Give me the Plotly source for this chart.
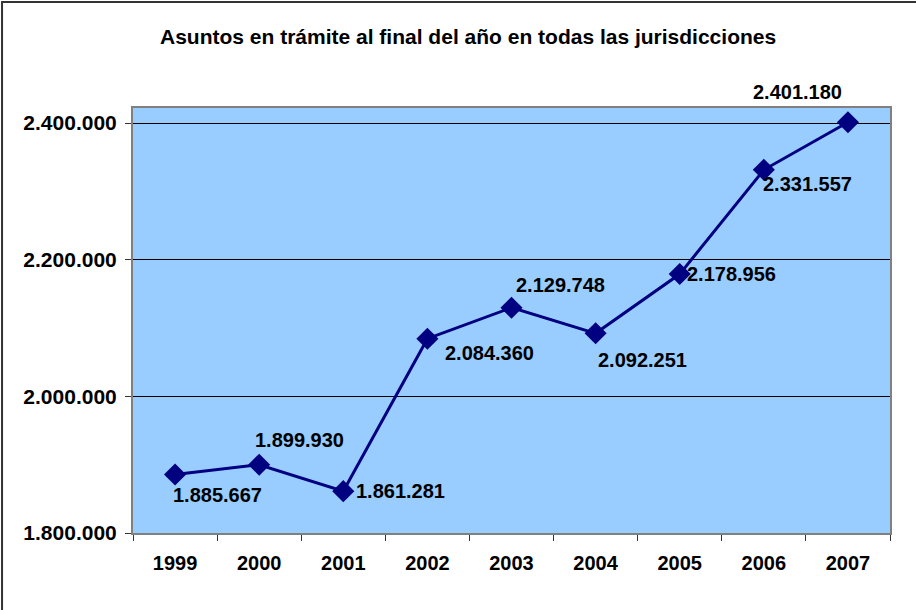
import plotly.graph_objects as go

years = [1999, 2000, 2001, 2002, 2003, 2004, 2005, 2006, 2007]
asuntos = [1885667, 1899930, 1861281, 2084360, 2129748, 2092251, 2178956, 2331557, 2401180]
y_ticks = [1800000, 2000000, 2200000, 2400000]

# label offsets (px) from each point, as placed in the original
label_dx = [42, 40, 57, 62, 49, 47, 52, 44, -50]
label_dy = [-21, 25, 0, -14, 23, -27, 0, -14, 30]

navy = '#000080'
font = 'Liberation Sans, Arial, sans-serif'


def fmt(v):
    return f'{v:,}'.replace(',', '.')


fig = go.Figure()
fig.add_trace(go.Scatter(x=years, y=asuntos, mode='lines+markers',
                         line=dict(color=navy, width=3),
                         marker=dict(symbol='diamond', size=17, color=navy)))

for yr, v, dx, dy in zip(years, asuntos, label_dx, label_dy):
    fig.add_annotation(x=yr, y=v, text=fmt(v), showarrow=False,
                       xshift=dx, yshift=dy,
                       font=dict(family=font, size=20, color='black', weight='bold'))

# outer frame of the chart (only top and left edges visible)
fig.add_shape(type='rect', xref='paper', yref='paper',
              x0=-0.173, x1=1.2, y0=-0.4, y1=1.2494,
              line=dict(color='#333333', width=2), layer='below')

fig.update_layout(
    width=916, height=610,
    margin=dict(l=133, r=26, t=108, b=77),
    paper_bgcolor='white', plot_bgcolor='#99CCFF',
    separators=',.',
    showlegend=False,
    title=dict(text='Asuntos en trámite al final del año en todas las jurisdicciones',
               x=0.511, xanchor='center', y=0.9393, yanchor='middle',
               font=dict(family=font, size=21, color='black', weight='bold')),
    font=dict(family=font, color='black'),
)
fig.update_xaxes(range=[years[0] - 0.5, years[-1] + 0.5], automargin=False,
                 tickvals=years, ticktext=[str(y) for y in years], ticks='',
                 minor=dict(tick0=years[0] - 0.5, dtick=1, ticks='outside', ticklen=6,
                            tickcolor='#333333', showgrid=False),
                 showgrid=False, zeroline=False, showline=True, linecolor='#808080',
                 linewidth=2, mirror=True, ticklabelstandoff=11,
                 tickfont=dict(family=font, size=20, color='black', weight='bold'))
fig.update_yaxes(range=[1800000, 2422000], tickvals=y_ticks, tickformat=',d',
                 automargin=False,
                 ticks='outside', ticklen=6, tickcolor='#333333',
                 showgrid=True, gridcolor='black', gridwidth=1, zeroline=False,
                 showline=True, linecolor='#808080', linewidth=2, mirror=True,
                 ticklabelstandoff=4,
                 tickfont=dict(family=font, size=21, color='black', weight='bold'))

fig.write_html('out.html', config={'displayModeBar': False},
               post_script="document.body.style.margin = '0';")
